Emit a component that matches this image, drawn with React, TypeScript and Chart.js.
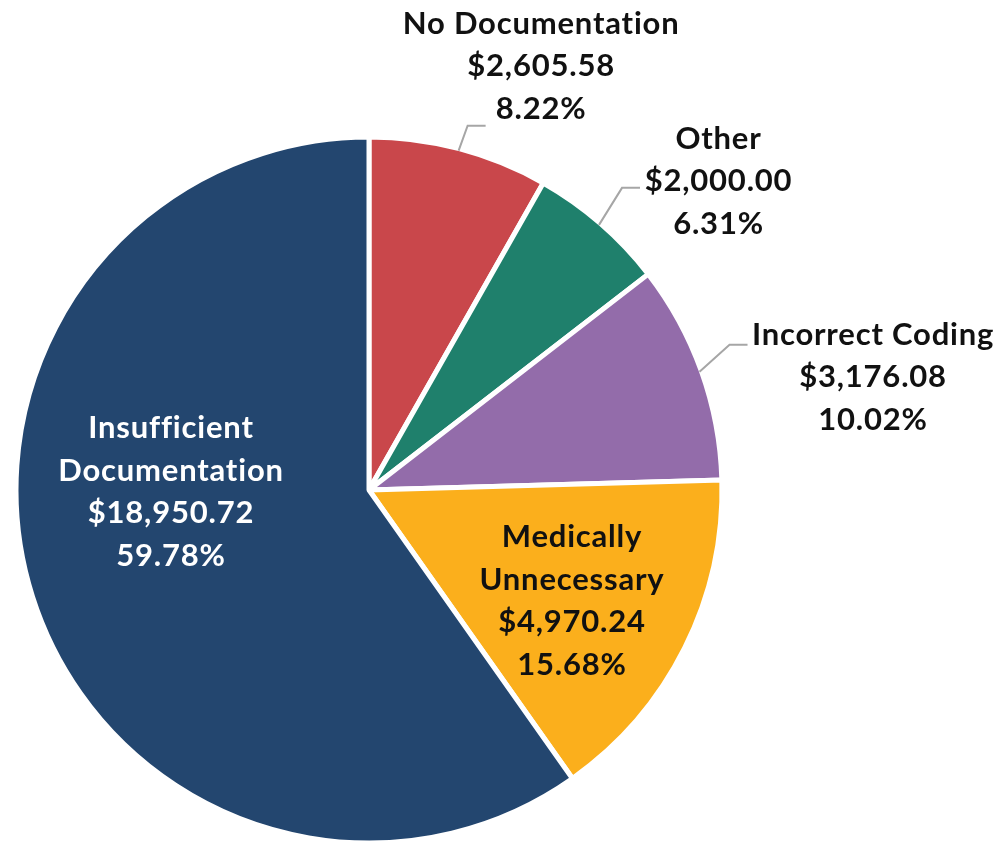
import React, { useEffect, useRef } from "react";
import { Chart, registerables } from "chart.js";

Chart.register(...registerables);

const categories = [
  "No Documentation",
  "Other",
  "Incorrect Coding",
  "Medically Unnecessary",
  "Insufficient Documentation",
];
const categoryLines = [
  ["No Documentation"],
  ["Other"],
  ["Incorrect Coding"],
  ["Medically", "Unnecessary"],
  ["Insufficient", "Documentation"],
];
const amounts = [2605.58, 2000.0, 3176.08, 4970.24, 18950.72];
const sliceColors = ["#C9474B", "#1F806C", "#936CAA", "#FBAF1C", "#23466F"];

// label placement / style (not data)
type LabelCfg = {
  outside: boolean;
  dx: number; // text centre x offset
  dy: number; // first baseline offset
  color: string;
  corner?: [number, number];
};
const labelCfg: LabelCfg[] = [
  { outside: true, dx: 82.5, dy: -117, color: "#111", corner: [9, -25] },
  { outside: true, dx: 119.5, dy: -76, color: "#111", corner: [23, -37] },
  { outside: true, dx: 173.5, dy: -27, color: "#111", corner: [30, -27] },
  { outside: false, dx: 203, dy: 57, color: "#111" },
  { outside: false, dx: -198, dy: -52, color: "#ffffff" },
];

const FONT = "bold 31px Lato";
const LETTER_SPACING = "0.8px";
const LINE_H = 42.5;

const fmtMoney = (v: number) =>
  "$" + v.toLocaleString("en-US", { minimumFractionDigits: 2, maximumFractionDigits: 2 });

const labelPlugin = {
  id: "pieLabels",
  afterDatasetsDraw(chart: any) {
    const ctx = chart.ctx;
    const meta = chart.getDatasetMeta(0);
    const total = amounts.reduce((a, b) => a + b, 0);
    ctx.save();
    meta.data.forEach((arc: any, i: number) => {
      const { x, y, startAngle, endAngle, outerRadius } = arc.getProps(
        ["x", "y", "startAngle", "endAngle", "outerRadius"],
        true
      );
      const cfg = labelCfg[i];
      const mid = (startAngle + endAngle) / 2;
      let ax = x;
      let ay = y;
      if (cfg.outside) {
        const r = outerRadius - 2;
        ax = x + r * Math.cos(mid);
        ay = y + r * Math.sin(mid);
        const [cx, cy] = cfg.corner!;
        ctx.strokeStyle = "#A6A6A6";
        ctx.lineWidth = 2;
        ctx.beginPath();
        ctx.moveTo(ax, ay);
        ctx.lineTo(ax + cx, ay + cy);
        ctx.lineTo(ax + cx + 18, ay + cy);
        ctx.stroke();
      }
      const lines = [
        ...categoryLines[i],
        fmtMoney(amounts[i]),
        ((amounts[i] / total) * 100).toFixed(2) + "%",
      ];
      ctx.font = FONT;
      try {
        (ctx as any).letterSpacing = LETTER_SPACING;
      } catch (e) {}
      ctx.fillStyle = cfg.color;
      ctx.textAlign = "center";
      ctx.textBaseline = "alphabetic";
      lines.forEach((t, k) => {
        ctx.fillText(t, ax + cfg.dx, ay + cfg.dy + k * LINE_H);
      });
    });
    ctx.restore();
  },
};

export default function App() {
  const ref = useRef<HTMLCanvasElement | null>(null);
  useEffect(() => {
    if (!ref.current) return;
    const chart = new Chart(ref.current, {
      type: "pie",
      data: {
        labels: categories,
        datasets: [
          {
            data: amounts,
            backgroundColor: sliceColors,
            borderColor: "#ffffff",
            borderWidth: 5,
            hoverOffset: 0,
          },
        ],
      },
      options: {
        responsive: false,
        animation: false,
        radius: 353,
        layout: { padding: { left: 18, right: 276, top: 139, bottom: 1 } },
        plugins: {
          legend: { display: false },
          tooltip: { enabled: false },
        },
      } as any,
      plugins: [labelPlugin],
    });
    return () => chart.destroy();
  }, []);
  return (
    <div style={{ position: "absolute", left: 0, top: 0, width: 996, height: 842, background: "#fff" }}>
      <canvas ref={ref} width={996} height={842} style={{ width: 996, height: 842 }} />
    </div>
  );
}
